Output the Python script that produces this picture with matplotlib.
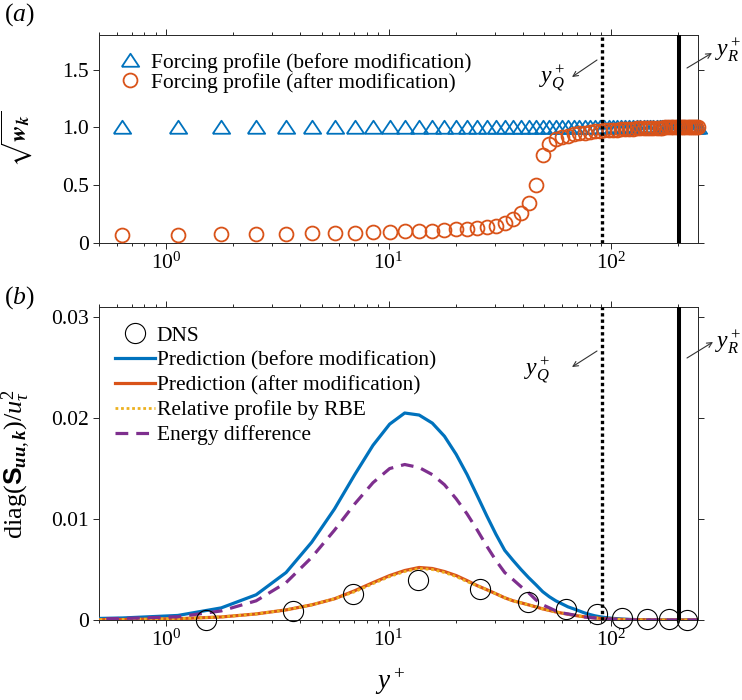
import matplotlib
matplotlib.use('Agg')
import matplotlib.pyplot as plt
from matplotlib.ticker import NullLocator, FixedLocator, FixedFormatter

plt.rcParams['font.family'] = ['Liberation Serif', 'DejaVu Serif']
plt.rcParams['mathtext.fontset'] = 'custom'
plt.rcParams['mathtext.rm'] = 'Liberation Serif'
plt.rcParams['mathtext.it'] = 'Liberation Serif:italic'
plt.rcParams['mathtext.bf'] = 'Liberation Sans:bold'
try:
    plt.rcParams['mathtext.bfit'] = 'Liberation Serif:italic:bold'
    BFIT = True
except Exception:
    BFIT = False

# ---------------- data ----------------
# wall-normal grid (y+) of the forcing profile / predictions
grid_yplus = [0.283, 0.637, 1.13, 1.77, 2.54, 3.46, 4.51, 5.71, 7.04, 8.50, 10.1,
              11.8, 13.7, 15.7, 17.8, 20.1, 22.5, 25.0, 27.6, 30.3, 33.2, 36.2,
              39.3, 42.5, 45.8, 49.2, 52.7, 56.3, 60.0, 63.9, 67.8, 71.7, 75.8,
              79.9, 84.2, 88.5, 92.8, 97.3, 101.8, 106.4, 111.0, 115.7, 120.4,
              125.2, 130.0, 134.8, 139.7, 144.7, 149.6, 154.6, 159.6, 164.6,
              169.7, 174.7, 180.0, 185.0, 190.1, 195.1, 200.2, 205.2, 210.2,
              215.1, 220.1, 225.0, 229.8, 234.7, 239.5, 244.2]

# panel (a): forcing profiles (points from the 2nd grid value on)
forcing_before = [1.0] * 67
forcing_after = [0.069, 0.072, 0.075, 0.078, 0.080, 0.083, 0.086, 0.089, 0.091,
                 0.094, 0.100, 0.105, 0.108, 0.112, 0.118, 0.124, 0.130, 0.137,
                 0.150, 0.175, 0.21, 0.26, 0.35, 0.50, 0.76, 0.86, 0.90, 0.915,
                 0.93, 0.94, 0.95, 0.955, 0.96, 0.965, 0.97, 0.975, 0.978, 0.98,
                 0.982, 0.984, 0.986, 0.988, 0.99, 0.991, 0.992, 0.993, 0.994,
                 0.995, 0.996, 0.997, 0.998, 0.999, 1.0, 1.0, 1.0, 1.0, 1.0, 1.0,
                 1.0, 1.0, 1.0, 1.0, 1.0, 1.0, 1.0, 1.0, 1.0]

# panel (b): energy spectra diag(S_uu,k)/u_tau^2
pred_before = [0.00005, 0.0002, 0.00045, 0.0012, 0.0025, 0.0047, 0.0077, 0.0110,
               0.0144, 0.0173, 0.0194, 0.0205, 0.0203, 0.0195, 0.0182, 0.0164,
               0.0144, 0.0123, 0.0103, 0.0085, 0.0069, 0.0059, 0.0050, 0.0042,
               0.0035, 0.0028, 0.0023, 0.0019, 0.0016, 0.0013, 0.0011, 0.0009,
               0.0007, 0.00055, 0.00042, 0.00033, 0.00026, 0.0002, 0.00016,
               0.00013, 0.0001, 0.00008, 0.00006, 0.00005, 0.00004, 0.00003,
               0.00003, 0.00002, 0.00002, 0.00001, 0.00001, 0.00001, 0.0, 0.0,
               0.0, 0.0, 0.0, 0.0, 0.0, 0.0, 0.0, 0.0, 0.0, 0.0, 0.0, 0.0, 0.0, 0.0]
pred_after = [0.00002, 0.00005, 0.00013, 0.0003, 0.0006, 0.0010, 0.0015, 0.0021,
              0.0029, 0.0037, 0.0044, 0.0049, 0.0052, 0.0051, 0.0048, 0.0044,
              0.0039, 0.0034, 0.0030, 0.0026, 0.0022, 0.0019, 0.0017, 0.0015,
              0.0013, 0.0011, 0.00095, 0.0008, 0.00068, 0.00057, 0.00047,
              0.00039, 0.00032, 0.00026, 0.00021, 0.00017, 0.00014, 0.00011,
              0.00009, 0.00007, 0.00006, 0.00005, 0.00004, 0.00003, 0.00003,
              0.00002, 0.00002, 0.00001, 0.00001, 0.00001, 0.0, 0.0, 0.0, 0.0,
              0.0, 0.0, 0.0, 0.0, 0.0, 0.0, 0.0, 0.0, 0.0, 0.0, 0.0, 0.0, 0.0, 0.0]
rbe_profile = [0.00002, 0.00005, 0.00013, 0.0003, 0.0006, 0.0010, 0.0015, 0.0021,
               0.0028, 0.0036, 0.0043, 0.0048, 0.0051, 0.0050, 0.0047, 0.0043,
               0.0038, 0.0034, 0.0030, 0.0026, 0.0022, 0.0019, 0.0017, 0.0015,
               0.0013, 0.0011, 0.00095, 0.0008, 0.00068, 0.00057, 0.00047,
               0.00039, 0.00032, 0.00026, 0.00021, 0.00017, 0.00014, 0.00011,
               0.00009, 0.00007, 0.00006, 0.00005, 0.00004, 0.00003, 0.00003,
               0.00002, 0.00002, 0.00001, 0.00001, 0.00001, 0.0, 0.0, 0.0, 0.0,
               0.0, 0.0, 0.0, 0.0, 0.0, 0.0, 0.0, 0.0, 0.0, 0.0, 0.0, 0.0, 0.0, 0.0]
energy_diff = [0.00003, 0.00015, 0.00032, 0.0009, 0.0019, 0.0037, 0.0062, 0.0089,
               0.0115, 0.0136, 0.0150, 0.0154, 0.0151, 0.0144, 0.0134, 0.0120,
               0.0105, 0.0089, 0.0073, 0.0059, 0.0047, 0.0040, 0.0033, 0.0027,
               0.0020, 0.0015, 0.0012, 0.0009, 0.0007, 0.0006, 0.0005, 0.0004,
               0.0003, 0.00025, 0.0002, 0.00016, 0.00012, 0.00009, 0.00007,
               0.00006, 0.00004, 0.00003, 0.00002, 0.00002, 0.00001, 0.00001,
               0.0, 0.0, 0.0, 0.0, 0.0, 0.0, 0.0, 0.0, 0.0, 0.0, 0.0, 0.0, 0.0,
               0.0, 0.0, 0.0, 0.0, 0.0, 0.0, 0.0, 0.0, 0.0]

dns_yplus = [1.51, 3.73, 6.88, 13.5, 25.7, 42.3, 62.7, 86.5, 112, 145, 181, 218]
dns_energy = [0.00002, 0.0009, 0.0026, 0.0040, 0.0031, 0.0018, 0.0011, 0.0006,
              0.0002, 0.0001, 0.00005, 0.00003]

yQ_plus = 91.0
yR_plus = 202.0

xlim = (0.5, 245)
ylim_a = (0, 1.8)
ylim_b = (0, 0.031)
yticks_a = [0, 0.5, 1.0, 1.5]
yticklabels_a = ['0', '0.5', '1.0', '1.5']
yticks_b = [0, 0.01, 0.02, 0.03]
yticklabels_b = ['0', '0.01', '0.02', '0.03']

legend_a = ['Forcing profile (before modification)',
            'Forcing profile (after modification)']
legend_b = ['DNS', 'Prediction (before modification)',
            'Prediction (after modification)', 'Relative profile by RBE',
            'Energy difference']

# ---------------- style ----------------
BLUE = '#0072BD'
ORANGE = '#D95319'
YELLOW = '#EDB120'
PURPLE = '#7E2F8E'
AXC = '#262626'
FS = 15.5

W, H = 742, 700
fig = plt.figure(figsize=(W / 100, H / 100), dpi=100)

def px_axes(l, t, r, b):
    return fig.add_axes([l / W, 1 - b / H, (r - l) / W, (b - t) / H])

axA = px_axes(99, 35, 698, 243)
axB = px_axes(99, 307, 698, 620)

bf = (lambda s: r'\mathbfit{%s}' % s) if BFIT else (lambda s: r'\mathbf{%s}' % s)

tri = [(-1.0, -0.72), (1.0, -0.72), (0.0, 0.78), (-1.0, -0.72)]

def style_axes(ax):
    ax.set_xscale('log')
    ax.set_xlim(*xlim)
    for s in ax.spines.values():
        s.set_color(AXC)
        s.set_linewidth(0.7)
    ax.tick_params(which='both', direction='out', top=True, right=True,
                   colors=AXC, labelcolor='black', labelsize=FS, width=0.7)
    ax.tick_params(which='major', length=4.2, pad=3)
    ax.tick_params(which='minor', length=2.4)
    ax.yaxis.set_minor_locator(NullLocator())

# ---------- panel (a) ----------
xa = grid_yplus[1:]
axA.plot(xa, forcing_before, linestyle='none', marker=tri, ms=12.5,
         mfc='none', mec=BLUE, mew=1.3, clip_on=False, zorder=3,
         label=legend_a[0])
axA.plot(xa, forcing_after, linestyle='none', marker='o', ms=10,
         mfc='none', mec=ORANGE, mew=1.3, clip_on=False, zorder=3,
         label=legend_a[1])
axA.axvline(yQ_plus, color='k', lw=2.4, ls=(0, (1, 0.9)), zorder=4)
axA.axvline(yR_plus, color='k', lw=2.9, zorder=4)
style_axes(axA)
axA.set_ylim(*ylim_a)
axA.yaxis.set_major_locator(FixedLocator(yticks_a))
axA.yaxis.set_major_formatter(FixedFormatter(yticklabels_a))
try:
    axA.set_ylabel(r'$\sqrt{\mathbfit{w}_{\mathbfit{k}}}$', fontsize=FS + 2,
                   math_fontfamily='stix')
    fig.canvas.draw()
except Exception:
    axA.set_ylabel(r'$\sqrt{\mathbf{w}_{\mathbf{k}}}$', fontsize=FS + 2,
                   math_fontfamily='stix')
axA.yaxis.set_label_coords(-0.108, 0.5)
axA.legend(loc='upper left', bbox_to_anchor=(0.033, 0.915), frameon=False,
           fontsize=FS, handlelength=1.0, handletextpad=0.5,
           labelspacing=0.0, borderaxespad=0, borderpad=0)
axA.text(-0.158, 1.096, r'($\mathit{a}$)', transform=axA.transAxes,
         fontsize=FS + 3, ha='left', va='center')

# ---------- panel (b) ----------
axB.plot(dns_yplus, dns_energy, linestyle='none', marker='o', ms=14.5,
         mfc='none', mec='k', mew=0.8, clip_on=False, zorder=5,
         label=legend_b[0])
axB.plot(grid_yplus, pred_before, color=BLUE, lw=2.3, label=legend_b[1], zorder=3)
axB.plot(grid_yplus, pred_after, color=ORANGE, lw=2.3, label=legend_b[2], zorder=3)
axB.plot(grid_yplus, rbe_profile, color=YELLOW, lw=2.0, ls=(0, (1, 1)),
         label=legend_b[3], zorder=3)
axB.plot(grid_yplus, energy_diff, color=PURPLE, lw=2.3, ls=(0, (4, 2.5)),
         label=legend_b[4], zorder=3)
axB.axvline(yQ_plus, color='k', lw=2.4, ls=(0, (1, 0.9)), zorder=4)
axB.axvline(yR_plus, color='k', lw=2.9, zorder=4)
style_axes(axB)
axB.set_ylim(*ylim_b)
axB.yaxis.set_major_locator(FixedLocator(yticks_b))
axB.yaxis.set_major_formatter(FixedFormatter(yticklabels_b))
axB.set_ylabel(r'$\mathrm{diag}(\mathbf{S}_{%s,%s})/u_\tau^2$' % (bf('uu'), bf('k')),
               fontsize=FS + 3.5)
axB.yaxis.set_label_coords(-0.11, 0.5)
axB.set_xlabel(r'$y^+$', fontsize=FS + 4)
axB.xaxis.set_label_coords(0.485, -0.15)
axB.legend(loc='upper left', bbox_to_anchor=(0.027, 0.94), frameon=False,
           fontsize=FS, handlelength=1.85, handletextpad=0.08,
           labelspacing=0.22, borderaxespad=0, borderpad=0)
axB.text(-0.158, 1.03, r'($\mathit{b}$)', transform=axB.transAxes,
         fontsize=FS + 3, ha='left', va='center')

# ---------- annotations (y_Q^+, y_R^+) ----------
def note(txt, xy_img):
    fig.text(xy_img[0] / W, 1 - xy_img[1] / H, txt, fontsize=FS + 1.5,
             ha='center', va='center')

arrow_kw = dict(arrowstyle='->', color='#333333', lw=0.8, shrinkA=0, shrinkB=0,
                mutation_scale=9)

def arrow(tail, head):
    fig.add_artist(matplotlib.patches.FancyArrowPatch(
        (tail[0] / W, 1 - tail[1] / H), (head[0] / W, 1 - head[1] / H),
        transform=fig.transFigure, **arrow_kw))

# panel a
note(r'$y_Q^+$', (552, 78))
arrow((597, 60), (572, 77))
note(r'$y_R^+$', (728, 50))
arrow((687, 68), (712, 53))
# panel b
note(r'$y_Q^+$', (537, 370))
arrow((597, 351), (572, 367))
note(r'$y_R^+$', (728, 342))
arrow((687, 358), (713, 342))

fig.savefig('out.png', dpi=100)
